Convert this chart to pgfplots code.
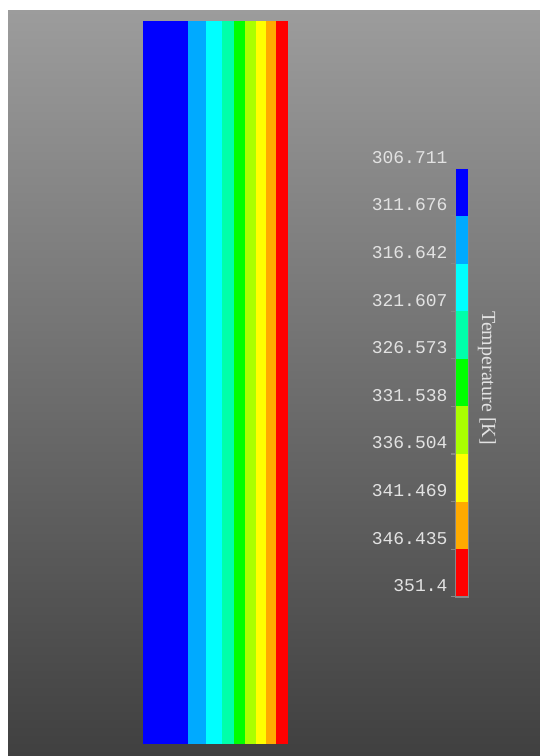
\documentclass[border=0pt]{standalone}
\usepackage{fontspec}
\setmainfont{Liberation Serif}
\newfontfamily\monofont{Liberation Mono}
\usepackage{pgfplots}
\pgfplotsset{compat=1.18}

% contour level colours (low -> high temperature)
\definecolor{lv1}{RGB}{0,0,255}
\definecolor{lv2}{RGB}{0,170,255}
\definecolor{lv3}{RGB}{0,255,255}
\definecolor{lv4}{RGB}{0,255,170}
\definecolor{lv5}{RGB}{0,255,0}
\definecolor{lv6}{RGB}{170,255,0}
\definecolor{lv7}{RGB}{255,255,0}
\definecolor{lv8}{RGB}{255,170,0}
\definecolor{lv9}{RGB}{255,0,0}
\definecolor{bgtop}{RGB}{156,156,156}
\definecolor{bgbot}{RGB}{64,64,64}
\definecolor{labtext}{RGB}{226,226,226}
\definecolor{framegray}{RGB}{135,135,135}

\begin{document}
\begin{tikzpicture}
% ---- domain view (pixel-like coordinates, y downwards) ----
\begin{axis}[
  name=main, at={(0,0)}, anchor=south west,
  width=270pt, height=378pt, scale only axis,
  xmin=0, xmax=540, ymin=0, ymax=756, y dir=reverse,
  hide axis, clip=false]
  \fill[white] (axis cs:0,0) rectangle (axis cs:540,756);
  \shade[top color=bgtop, bottom color=bgbot] (axis cs:8,10) rectangle (axis cs:540,756);
  % temperature bands across the slab
  \addplot[fill=lv1, draw=none] coordinates {(143,20.5) (188,20.5) (188,744) (143,744)} -- cycle;
  \addplot[fill=lv2, draw=none] coordinates {(188,20.5) (206,20.5) (206,744) (188,744)} -- cycle;
  \addplot[fill=lv3, draw=none] coordinates {(206,20.5) (222,20.5) (222,744) (206,744)} -- cycle;
  \addplot[fill=lv4, draw=none] coordinates {(222,20.5) (234,20.5) (234,744) (222,744)} -- cycle;
  \addplot[fill=lv5, draw=none] coordinates {(234,20.5) (245,20.5) (245,744) (234,744)} -- cycle;
  \addplot[fill=lv6, draw=none] coordinates {(245,20.5) (256,20.5) (256,744) (245,744)} -- cycle;
  \addplot[fill=lv7, draw=none] coordinates {(256,20.5) (266,20.5) (266,744) (256,744)} -- cycle;
  \addplot[fill=lv8, draw=none] coordinates {(266,20.5) (276,20.5) (276,744) (266,744)} -- cycle;
  \addplot[fill=lv9, draw=none] coordinates {(276,20.5) (288,20.5) (288,744) (276,744)} -- cycle;
  \node[rotate=-90, text=labtext, font=\fontsize{10}{12}\selectfont] at (axis cs:487,378) {Temperature [K]};
\end{axis}

% ---- colour legend ----
\begin{axis}[
  at={(227.75pt,79.65pt)}, anchor=south west,
  width=6.5pt, height=214.2pt, scale only axis,
  xmin=0, xmax=1, ymin=306.711, ymax=351.4, y dir=reverse,
  xtick=\empty, ytick pos=left, tick align=outside,
  major tick length=2.5pt,
  axis line style={draw=framegray, line width=0.8pt},
  tick style={draw=framegray, line width=0.6pt},
  ytick={306.711,311.676,316.642,321.607,326.573,331.538,336.504,341.469,346.435,351.4},
  yticklabels={306.711,311.676,316.642,321.607,326.573,331.538,336.504,341.469,346.435,351.4},
  yticklabel style={font=\monofont\fontsize{9}{10}\selectfont, text=labtext, yshift=5.5pt, xshift=2pt},
  axis on top]
  \addplot[fill=lv1, draw=none] coordinates {(0,306.711) (1,306.711) (1,311.676) (0,311.676)} -- cycle;
  \addplot[fill=lv2, draw=none] coordinates {(0,311.676) (1,311.676) (1,316.642) (0,316.642)} -- cycle;
  \addplot[fill=lv3, draw=none] coordinates {(0,316.642) (1,316.642) (1,321.607) (0,321.607)} -- cycle;
  \addplot[fill=lv4, draw=none] coordinates {(0,321.607) (1,321.607) (1,326.573) (0,326.573)} -- cycle;
  \addplot[fill=lv5, draw=none] coordinates {(0,326.573) (1,326.573) (1,331.538) (0,331.538)} -- cycle;
  \addplot[fill=lv6, draw=none] coordinates {(0,331.538) (1,331.538) (1,336.504) (0,336.504)} -- cycle;
  \addplot[fill=lv7, draw=none] coordinates {(0,336.504) (1,336.504) (1,341.469) (0,341.469)} -- cycle;
  \addplot[fill=lv8, draw=none] coordinates {(0,341.469) (1,341.469) (1,346.435) (0,346.435)} -- cycle;
  \addplot[fill=lv9, draw=none] coordinates {(0,346.435) (1,346.435) (1,351.4) (0,351.4)} -- cycle;
\end{axis}
\end{tikzpicture}
\end{document}
